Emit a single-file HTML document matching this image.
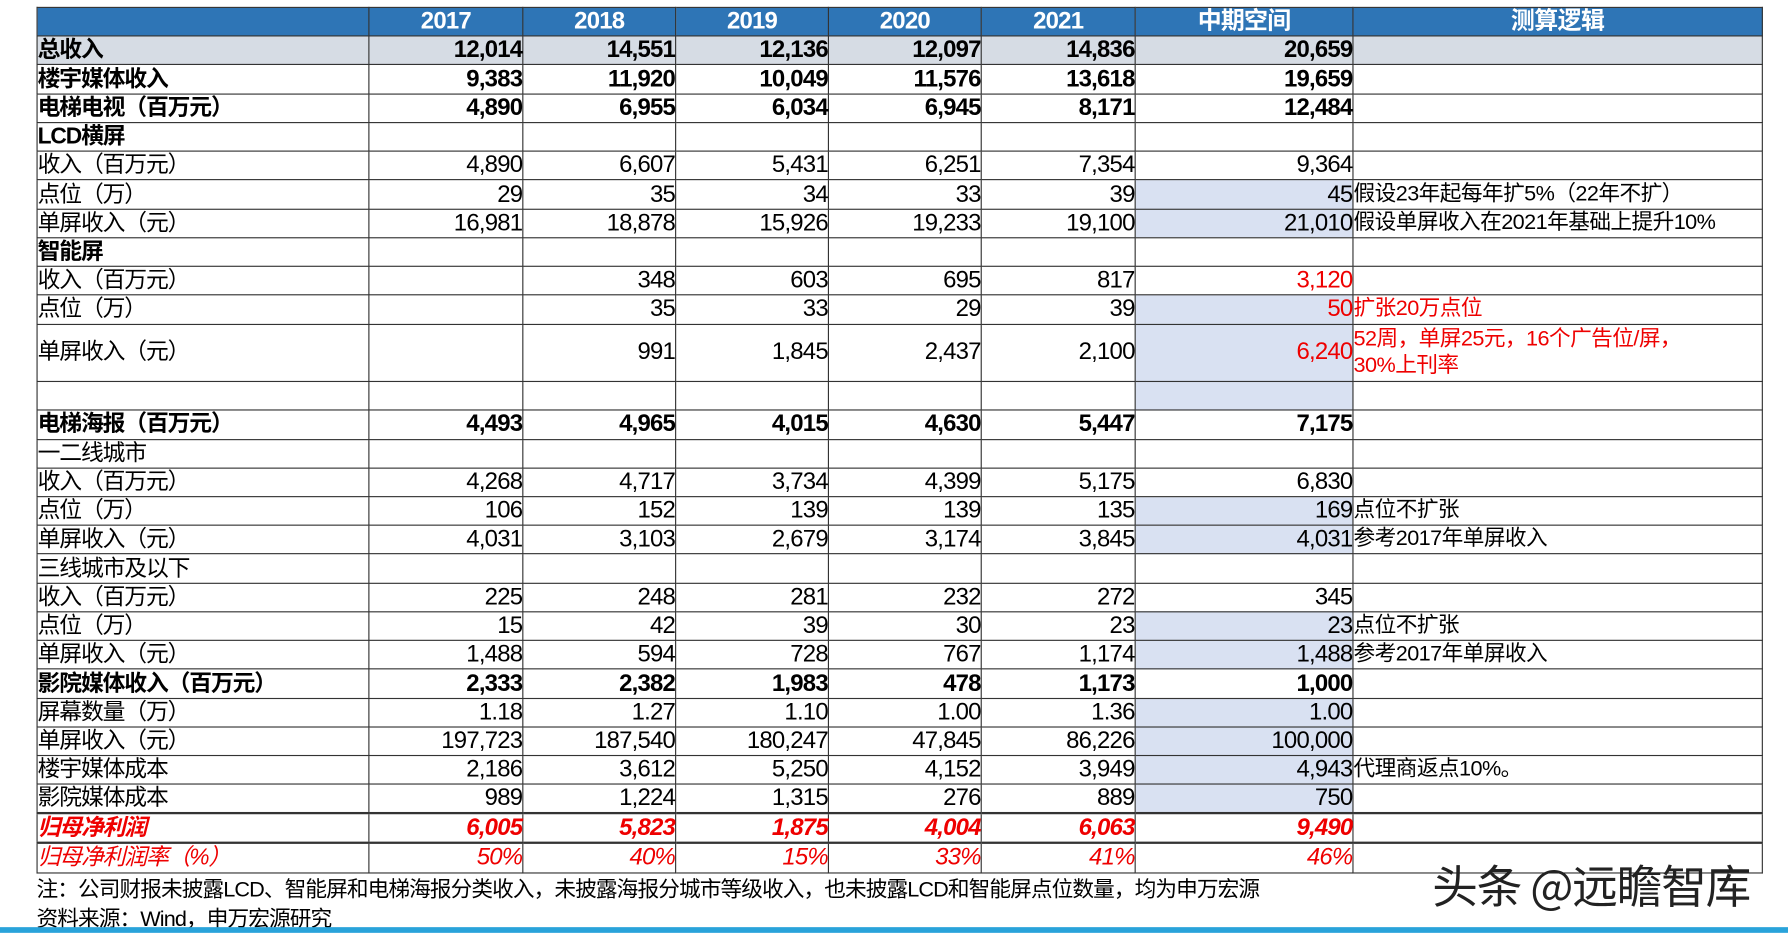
<!DOCTYPE html>
<html><head><meta charset="utf-8"><style>
html,body{margin:0;padding:0;background:#fff;width:1788px;height:934px;overflow:hidden}
#w{position:absolute;left:0;top:0;width:1568px;height:819px;transform:scale(1.1403,1.1404);transform-origin:0 0}
table{position:absolute;left:32px;top:6px;border-collapse:collapse;table-layout:fixed;width:1513px;font-family:"Liberation Sans","Noto Sans CJK SC",sans-serif;font-size:21px;color:#000}
td{height:24.24px;padding:0;border:1px solid #333;white-space:nowrap;overflow:visible;line-height:24px;text-align:right;letter-spacing:-0.7px}
td:first-child{text-align:left;letter-spacing:-1px;font-size:20px}
td:last-child{text-align:left;font-size:19px;letter-spacing:-0.5px}
tr.h td{background:#2e75b6;color:#fff;font-weight:bold;text-align:center!important;font-size:21px}
tr.b td{font-weight:bold}
tr.g td{background:#d6dce4}
.c{background:#d9e1f2}
.r{color:#e00}
tr.i td{font-style:italic;font-weight:bold;color:#e00}
tr.ii td{font-style:italic;color:#e00}
tr.thick td{border-bottom:2px solid #333;height:23.24px}
.note{position:absolute;left:32px;font-family:"Liberation Sans","Noto Sans CJK SC",sans-serif;font-size:19px;letter-spacing:-0.8px;white-space:nowrap}
.wm{position:absolute;left:1256px;top:746px;font-family:"Noto Sans CJK SC",sans-serif;font-size:40px;color:#222;white-space:nowrap;letter-spacing:-1px}
.bar{position:absolute;left:0;top:813px;width:1568px;height:5px;background:#29a3da}
</style></head><body><div id="w">
<table>
<colgroup><col style="width:291px"><col style="width:135px"><col style="width:134px"><col style="width:134px"><col style="width:134px"><col style="width:135px"><col style="width:191px"><col style="width:359px"></colgroup>
<tr class="h"><td></td><td>2017</td><td>2018</td><td>2019</td><td>2020</td><td>2021</td><td>中期空间</td><td>测算逻辑</td></tr>
<tr class="b g"><td>总收入</td><td>12,014</td><td>14,551</td><td>12,136</td><td>12,097</td><td>14,836</td><td>20,659</td><td></td></tr>
<tr class="b"><td>楼宇媒体收入</td><td>9,383</td><td>11,920</td><td>10,049</td><td>11,576</td><td>13,618</td><td>19,659</td><td></td></tr>
<tr class="b"><td>电梯电视（百万元）</td><td>4,890</td><td>6,955</td><td>6,034</td><td>6,945</td><td>8,171</td><td>12,484</td><td></td></tr>
<tr class="b"><td>LCD横屏</td><td></td><td></td><td></td><td></td><td></td><td></td><td></td></tr>
<tr><td>收入（百万元）</td><td>4,890</td><td>6,607</td><td>5,431</td><td>6,251</td><td>7,354</td><td>9,364</td><td></td></tr>
<tr><td>点位（万）</td><td>29</td><td>35</td><td>34</td><td>33</td><td>39</td><td class="c">45</td><td>假设23年起每年扩5%（22年不扩）</td></tr>
<tr><td>单屏收入（元）</td><td>16,981</td><td>18,878</td><td>15,926</td><td>19,233</td><td>19,100</td><td class="c">21,010</td><td>假设单屏收入在2021年基础上提升10%</td></tr>
<tr class="b"><td>智能屏</td><td></td><td></td><td></td><td></td><td></td><td></td><td></td></tr>
<tr><td>收入（百万元）</td><td></td><td>348</td><td>603</td><td>695</td><td>817</td><td class="r">3,120</td><td></td></tr>
<tr><td>点位（万）</td><td></td><td>35</td><td>33</td><td>29</td><td>39</td><td class="c r">50</td><td class="r">扩张20万点位</td></tr>
<tr><td style="height:49.5px">单屏收入（元）</td><td></td><td>991</td><td>1,845</td><td>2,437</td><td>2,100</td><td class="c r">6,240</td><td class="r" style="line-height:23px">52周，单屏25元，16个广告位/屏，<br>30%上刊率</td></tr>
<tr><td></td><td></td><td></td><td></td><td></td><td></td><td class="c"></td><td></td></tr>
<tr class="b"><td>电梯海报（百万元）</td><td>4,493</td><td>4,965</td><td>4,015</td><td>4,630</td><td>5,447</td><td>7,175</td><td></td></tr>
<tr><td>一二线城市</td><td></td><td></td><td></td><td></td><td></td><td></td><td></td></tr>
<tr><td>收入（百万元）</td><td>4,268</td><td>4,717</td><td>3,734</td><td>4,399</td><td>5,175</td><td>6,830</td><td></td></tr>
<tr><td>点位（万）</td><td>106</td><td>152</td><td>139</td><td>139</td><td>135</td><td class="c">169</td><td>点位不扩张</td></tr>
<tr><td>单屏收入（元）</td><td>4,031</td><td>3,103</td><td>2,679</td><td>3,174</td><td>3,845</td><td class="c">4,031</td><td>参考2017年单屏收入</td></tr>
<tr><td>三线城市及以下</td><td></td><td></td><td></td><td></td><td></td><td></td><td></td></tr>
<tr><td>收入（百万元）</td><td>225</td><td>248</td><td>281</td><td>232</td><td>272</td><td>345</td><td></td></tr>
<tr><td>点位（万）</td><td>15</td><td>42</td><td>39</td><td>30</td><td>23</td><td class="c">23</td><td>点位不扩张</td></tr>
<tr><td>单屏收入（元）</td><td>1,488</td><td>594</td><td>728</td><td>767</td><td>1,174</td><td class="c">1,488</td><td>参考2017年单屏收入</td></tr>
<tr class="b"><td>影院媒体收入（百万元）</td><td>2,333</td><td>2,382</td><td>1,983</td><td>478</td><td>1,173</td><td>1,000</td><td></td></tr>
<tr><td>屏幕数量（万）</td><td>1.18</td><td>1.27</td><td>1.10</td><td>1.00</td><td>1.36</td><td class="c">1.00</td><td></td></tr>
<tr><td>单屏收入（元）</td><td>197,723</td><td>187,540</td><td>180,247</td><td>47,845</td><td>86,226</td><td class="c">100,000</td><td></td></tr>
<tr><td>楼宇媒体成本</td><td>2,186</td><td>3,612</td><td>5,250</td><td>4,152</td><td>3,949</td><td class="c">4,943</td><td>代理商返点10%。</td></tr>
<tr class="thick"><td>影院媒体成本</td><td>989</td><td>1,224</td><td>1,315</td><td>276</td><td>889</td><td class="c">750</td><td></td></tr>
<tr class="i thick"><td>归母净利润</td><td>6,005</td><td>5,823</td><td>1,875</td><td>4,004</td><td>6,063</td><td>9,490</td><td></td></tr>
<tr class="ii"><td>归母净利润率（%）</td><td>50%</td><td>40%</td><td>15%</td><td>33%</td><td>41%</td><td>46%</td><td></td></tr>
</table>
<div class="note" style="top:765px">注：公司财报未披露LCD、智能屏和电梯海报分类收入，未披露海报分城市等级收入，也未披露LCD和智能屏点位数量，均为申万宏源</div>
<div class="note" style="top:791px">资料来源：Wind，申万宏源研究</div>
<div class="wm">头条 @远瞻智库</div>
<div class="bar"></div>
</div></body></html>
